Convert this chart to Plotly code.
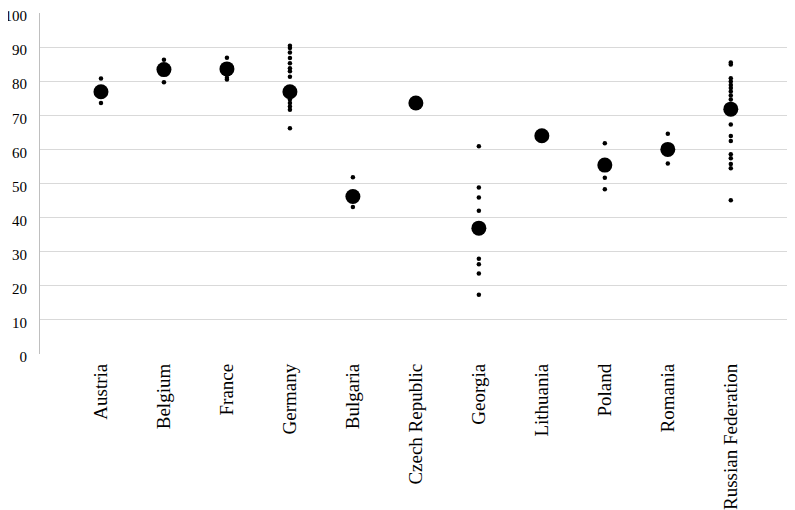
import plotly.graph_objects as go

countries = ["Austria", "Belgium", "France", "Germany", "Bulgaria", "Czech Republic",
             "Georgia", "Lithuania", "Poland", "Romania", "Russian Federation"]

# national means (large dots)
means = [76.9, 83.4, 83.6, 76.9, 46.2, 73.6, 36.9, 64.0, 55.4, 60.0, 71.8]

# regional values (small dots)
austria = [80.8, 73.6]
belgium = [86.3, 79.7]
france = [86.9, 80.5, 81.0]
germany = [90.4, 89.7, 88.4, 86.8, 85.3, 83.8, 82.9, 81.3, 74.6, 73.6, 72.6, 71.6, 66.2]
bulgaria = [51.8, 43.1]
czech = []
georgia = [60.9, 48.8, 45.9, 42.0, 27.9, 26.3, 23.6, 17.4]
lithuania = []
poland = [61.8, 51.7, 48.3]
romania = [64.6, 55.9]
russia = [85.5, 84.9, 80.9, 79.9, 78.9, 78.0, 77.0, 75.8, 74.6, 67.3, 63.9, 62.5,
          58.6, 57.4, 55.7, 54.5, 45.1]

regions = [austria, belgium, france, germany, bulgaria, czech, georgia, lithuania,
           poland, romania, russia]

small_x, small_y = [], []
for c, vals in zip(countries, regions):
    for v in vals:
        small_x.append(c)
        small_y.append(v)

fig = go.Figure()
fig.add_trace(go.Scatter(x=small_x, y=small_y, mode="markers",
                         marker=dict(color="black", size=4.5), showlegend=False))
fig.add_trace(go.Scatter(x=countries, y=means, mode="markers",
                         marker=dict(color="black", size=15), showlegend=False))

font = "Liberation Serif"
fig.update_layout(
    width=787, height=502,
    margin=dict(l=32, r=5, t=5, b=156),
    paper_bgcolor="white", plot_bgcolor="white",
    font=dict(family=font, color="black"),
    xaxis=dict(type="category", categoryorder="array", categoryarray=countries,
               range=[-0.968, 10.94], showgrid=False, zeroline=False,
               showline=False, tickangle=-90, tickfont=dict(size=19, family=font),
               ticks="", automargin=False, ticklabelstandoff=5,
               ticklabeloverflow="allow"),
    yaxis=dict(range=[0, 100], dtick=10, tick0=0, showgrid=True,
               gridcolor="#d9d9d9", gridwidth=1, zeroline=False,
               showline=True, linecolor="#bfbfbf", linewidth=1,
               tickfont=dict(size=15, family=font, color="black"), ticks="",
               ticklabelstandoff=9, ticklabelshift=3, automargin=False,
               ticklabeloverflow="allow"),
)

fig.write_html("out.html")
